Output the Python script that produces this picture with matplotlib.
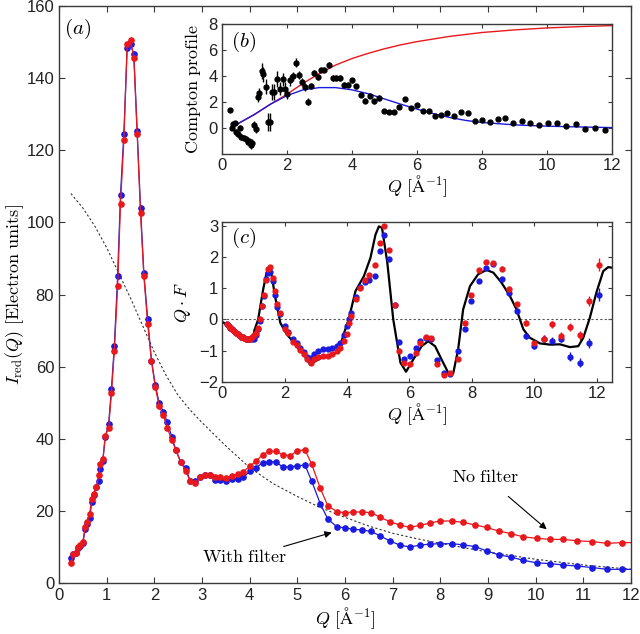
import numpy as np
import matplotlib.pyplot as plt

plt.rcParams['font.family'] = ['Liberation Sans', 'DejaVu Sans']
plt.rcParams['mathtext.fontset'] = 'cm'
plt.rcParams['axes.linewidth'] = 1.0
plt.rcParams['xtick.direction'] = 'in'
plt.rcParams['ytick.direction'] = 'in'

# ---- main panel (a): reduced intensity ----
q_main = [0.26, 0.30, 0.35, 0.40, 0.45, 0.50, 0.55, 0.59, 0.64, 0.69, 0.73, 0.78, 0.83, 0.87, 0.92, 0.97,
          1.04, 1.10, 1.16, 1.23, 1.29, 1.36, 1.43, 1.50, 1.57, 1.64, 1.71, 1.78, 1.86, 1.94, 2.02, 2.10,
          2.19, 2.27, 2.37, 2.45, 2.55, 2.66, 2.75, 2.85, 2.96, 3.06, 3.17, 3.27, 3.38, 3.50, 3.62, 3.75,
          3.87, 4.01, 4.13, 4.27, 4.41, 4.55, 4.69, 4.85, 5.00, 5.16, 5.30, 5.48, 5.64, 5.83, 6.00, 6.17,
          6.36, 6.55, 6.73, 6.94, 7.15, 7.36, 7.57, 7.78, 7.99, 8.24, 8.48, 8.73, 8.97, 9.23, 9.48, 9.74,
          10.02, 10.30, 10.58, 10.87, 11.19, 11.49, 11.80, 12.10]
i_nofilter = [5.6, 8.0, 8.3, 10.0, 10.5, 11.5, 15.5, 16.8, 19.2, 23.2, 24.8, 26.5, 29.9, 33.0, 34.3, 40.8,
              43.0, 52.6, 64.3, 82.3, 105.2, 122.8, 149.6, 150.6, 145.7, 124.4, 102.5, 85.2, 71.9, 61.5, 54.3, 49.2,
              46.5, 43.0, 39.6, 36.9, 33.6, 31.1, 28.3, 27.6, 29.3, 30.0, 30.0, 29.3, 29.3, 29.1, 29.7, 30.2,
              30.9, 32.5, 33.7, 35.6, 36.5, 36.5, 35.6, 35.3, 36.7, 36.9, 33.0, 26.3, 21.4, 19.8, 19.5, 19.7,
              19.7, 19.5, 18.3, 17.0, 16.1, 15.4, 16.0, 16.6, 17.2, 17.2, 16.8, 16.1, 15.4, 14.4, 13.7, 12.8,
              12.4, 12.1, 12.1, 11.7, 11.5, 11.0, 11.2, 11.2]
i_filter = [7.0, 8.0, 8.3, 9.7, 10.2, 11.0, 15.0, 16.5, 18.0, 22.5, 24.5, 26.5, 28.3, 31.6, 33.9, 40.5,
            44.0, 53.8, 65.6, 85.2, 107.7, 124.4, 148.4, 149.4, 146.6, 125.3, 104.1, 85.9, 73.2, 61.7, 55.0, 49.9,
            47.5, 44.6, 40.4, 36.9, 33.6, 31.9, 28.3, 28.3, 29.3, 30.0, 30.0, 28.6, 28.6, 28.4, 28.8, 28.8,
            29.3, 31.1, 31.9, 33.4, 33.6, 33.6, 32.2, 32.2, 32.5, 32.7, 28.3, 22.0, 17.7, 15.6, 15.3, 14.9,
            14.7, 14.3, 13.1, 11.7, 10.5, 10.0, 10.5, 10.8, 10.9, 10.9, 10.6, 10.1, 8.9, 7.8, 7.2, 6.3,
            5.6, 5.4, 5.0, 4.7, 4.3, 3.8, 3.8, 3.8]

# atomic form factor reference (dashed)
q_ff = [0.25, 0.5, 0.75, 1.0, 1.25, 1.5, 1.75, 2.0, 2.25, 2.5, 2.75, 3.0, 3.5, 4.0, 4.5, 5.0, 5.5, 6.0,
        6.5, 7.0, 7.5, 8.0, 8.5, 9.0, 9.5, 10.0, 10.5, 11.0, 11.5, 12.0]
i_ff = [108.0, 104.0, 99.0, 93.0, 86.0, 79.0, 71.5, 64.0, 57.5, 52.0, 48.0, 44.5, 38.0, 32.0, 27.5, 24.0,
        20.8, 18.2, 15.8, 13.8, 12.3, 11.0, 9.8, 8.6, 7.6, 6.6, 5.8, 5.0, 4.4, 3.8]

# ---- inset (b): Compton profile ----
q_cmp = [0.26, 0.31, 0.36, 0.41, 0.44, 0.51, 0.56, 0.58, 0.67, 0.74, 0.80, 0.85, 0.89, 0.94, 0.99, 1.05,
         1.10, 1.16, 1.23, 1.28, 1.35, 1.41, 1.48, 1.56, 1.62, 1.71, 1.79, 1.87, 1.95, 2.02, 2.10, 2.18,
         2.27, 2.37, 2.46, 2.56, 2.64, 2.74, 2.85, 2.95, 3.05, 3.15, 3.29, 3.41, 3.51, 3.64, 3.76, 3.87,
         4.00, 4.13, 4.27, 4.40, 4.56, 4.69, 4.84, 5.00, 5.15, 5.30, 5.46, 5.63, 5.81, 5.99, 6.18, 6.36,
         6.55, 6.74, 6.93, 7.14, 7.34, 7.56, 7.78, 8.01, 8.24, 8.48, 8.71, 8.96, 9.22, 9.47, 9.74, 10.02,
         10.29, 10.58, 10.88, 11.17, 11.48, 11.79]
v_cmp = [1.40, 0.05, 0.36, 0.44, -0.26, -0.47, 0.05, -0.67, -0.72, -0.85, -1.06, -0.98, -1.29, -1.16, 0.23, -0.08,
         2.38, 2.69, 4.39, 4.13, 3.20, 0.49, 0.49, 2.76, 2.76, 3.80, 3.02, 3.75, 3.02, 2.64, 3.67, 4.00,
         5.04, 4.10, 3.54, 3.15, 2.04, 3.23, 4.24, 3.93, 4.50, 4.50, 4.88, 3.85, 3.85, 3.85, 3.33, 3.33,
         3.67, 3.23, 2.58, 2.12, 2.51, 2.07, 2.33, 1.34, 1.27, 1.21, 1.65, 2.25, 1.55, 1.78, 1.29, 1.29,
         0.96, 1.01, 1.14, 0.96, 1.21, 1.14, 0.57, 0.65, 0.49, 0.70, 0.78, 0.44, 0.57, 0.44, 0.23, 0.44,
         0.44, 0.18, 0.36, -0.03, 0.00, -0.13]
e_cmp = [0.15, 0.15, 0.15, 0.15, 0.2, 0.2, 0.2, 0.2, 0.2, 0.2, 0.25, 0.25, 0.3, 0.3, 0.3, 0.3,
         0.4, 0.4, 0.6, 0.6, 0.6, 0.7, 0.7, 0.6, 0.6, 0.6, 0.5, 0.5, 0.5, 0.4, 0.4, 0.35,
         0.35, 0.3, 0.3, 0.3, 0.25, 0.25, 0.25, 0.2, 0.2, 0.2, 0.2, 0.2, 0.2, 0.2, 0.2, 0.2,
         0.2, 0.2, 0.2, 0.2, 0.2, 0.2, 0.2, 0.15, 0.15, 0.15, 0.15, 0.15, 0.12, 0.12, 0.12, 0.12,
         0.1, 0.1, 0.1, 0.1, 0.1, 0.1, 0.08, 0.08, 0.08, 0.08, 0.08, 0.08, 0.08, 0.08, 0.08, 0.08,
         0.08, 0.08, 0.08, 0.08, 0.08, 0.08]
q_free = [0.36, 0.5, 1.0, 1.5, 2.0, 2.5, 3.0, 3.5, 4.0, 4.5, 5.0, 5.5, 6.0, 7.0, 8.0, 9.0, 10.0, 11.0, 12.0]
v_free = [0.2, 0.35, 1.05, 1.85, 2.6, 3.45, 4.2, 4.85, 5.35, 5.75, 6.1, 6.4, 6.65, 7.05, 7.35, 7.55, 7.7, 7.8, 7.88]
q_bound = [0.36, 0.5, 1.0, 1.5, 2.0, 2.5, 3.0, 3.5, 4.0, 4.5, 5.0, 5.5, 6.0, 6.5, 7.0, 7.5, 8.0, 9.0, 10.0, 11.0, 12.0]
v_bound = [0.2, 0.35, 1.05, 1.85, 2.5, 2.95, 3.12, 3.12, 2.95, 2.65, 2.25, 1.85, 1.47, 1.12, 0.83, 0.6, 0.44,
           0.26, 0.16, 0.1, 0.05]

# ---- inset (c): Q*F ----
q_th = [0.0, 0.35, 0.67, 0.89, 0.99, 1.03, 1.15, 1.31, 1.42, 1.50, 1.58, 1.69, 1.86, 2.07, 2.39, 2.66,
        2.82, 2.98, 3.25, 3.57, 3.73, 3.89, 4.05, 4.27, 4.54, 4.75, 4.91, 5.02, 5.12, 5.29, 5.48, 5.71,
        5.89, 6.12, 6.39, 6.60, 6.82, 7.03, 7.24, 7.40, 7.56, 7.72, 7.94, 8.20, 8.47, 8.69, 8.95, 9.22,
        9.43, 9.65, 9.86, 10.18, 10.50, 10.82, 11.14, 11.41, 11.57, 11.78, 11.99, 12.21, 12.37, 12.50]
v_th = [-0.08, -0.30, -0.57, -0.66, -0.60, -0.35, 0.0, 0.96, 1.50, 1.62, 1.44, 0.75, -0.11, -0.48, -0.86, -1.18,
        -1.46, -1.34, -1.20, -1.12, -1.02, -0.48, 0.0, 0.91, 1.39, 1.98, 2.72, 2.99, 2.94, 1.82, 0.0, -1.39,
        -1.68, -1.29, -0.86, -0.70, -0.86, -1.29, -1.71, -1.74, -0.96, 0.32, 1.07, 1.45, 1.59, 1.50, 1.18, 0.75,
        0.32, -0.32, -0.59, -0.77, -0.81, -0.80, -0.89, -0.86, -0.59, 0.05, 0.86, 1.55, 1.68, 1.66]

q_exp = [0.15, 0.20, 0.25, 0.30, 0.35, 0.40, 0.45, 0.50, 0.55, 0.60, 0.65, 0.70, 0.75, 0.80, 0.85, 0.90,
         0.95, 1.03, 1.08, 1.15, 1.21, 1.26, 1.35, 1.40, 1.46, 1.54, 1.61, 1.69, 1.76, 1.85, 2.00, 2.11,
         2.27, 2.38, 2.50, 2.61, 2.72, 2.83, 2.94, 3.08, 3.22, 3.38, 3.51, 3.67, 3.78, 3.91, 4.00, 4.07,
         4.14, 4.27, 4.41, 4.59, 4.71, 4.88, 5.04, 5.17, 5.33, 5.52, 5.68, 5.84, 6.03, 6.20, 6.35, 6.52,
         6.70, 6.88, 7.10, 7.30, 7.54, 7.78, 7.97, 8.22, 8.45, 8.69, 8.95, 9.20, 9.45, 9.74, 10.00, 10.30,
         10.58, 10.87, 11.15, 11.47, 11.76, 12.08]
v_red = [-0.16, -0.21, -0.26, -0.30, -0.34, -0.39, -0.43, -0.47, -0.51, -0.55, -0.58, -0.60, -0.62, -0.64, -0.64, -0.62,
         -0.58, -0.50, -0.43, -0.27, 0.0, 0.43, 0.80, 1.25, 1.61, 1.69, 1.34, 0.91, 0.50, 0.21, -0.30, -0.45,
         -0.71, -0.83, -0.98, -1.12, -1.28, -1.39, -1.28, -1.20, -1.18, -1.18, -1.12, -1.01, -0.91, -0.70, -0.48, -0.11,
         0.10, 0.64, 1.01, 1.28, 1.44, 1.75, 2.46, 2.99, 2.23, 0.45, -1.01, -1.41, -1.44, -1.07, -0.77, -0.57,
         -0.60, -1.42, -1.77, -1.72, -1.27, -0.10, 0.80, 1.60, 1.84, 1.80, 1.63, 0.99, 0.48, -0.11, -0.77, -0.62,
         -0.16, -0.54, -0.24, -0.51, 0.59, 1.76]
v_blue = [-0.16, -0.21, -0.26, -0.30, -0.34, -0.39, -0.43, -0.47, -0.51, -0.55, -0.58, -0.60, -0.62, -0.64, -0.64, -0.64,
          -0.63, -0.62, -0.50, -0.30, -0.05, 0.43, 0.75, 1.29, 1.50, 1.52, 1.23, 0.80, 0.41, 0.16, -0.21, -0.40,
          -0.64, -0.77, -0.91, -1.05, -1.20, -1.23, -1.12, -1.01, -0.96, -0.96, -0.91, -0.85, -0.77, -0.51, -0.21, 0.0,
          0.21, 0.73, 1.04, 1.20, 1.25, 1.40, 2.20, 2.72, 1.94, 0.45, -0.73, -1.28, -1.17, -0.91, -0.70, -0.60,
          -0.62, -1.29, -1.71, -1.74, -1.02, -0.30, 0.59, 1.23, 1.66, 1.78, 1.29, 0.86, 0.27, -0.54, -0.86, -0.62,
          -0.70, -0.62, -1.20, -1.39, -0.75, 0.80]
e_exp = [0.02] * 40 + [0.03] * 20 + [0.05] * 12 + [0.06, 0.07, 0.08, 0.08, 0.09, 0.1, 0.1, 0.12, 0.12, 0.12,
                                                    0.14, 0.14, 0.16, 0.2]

red = '#e8181c'
blue = '#1a1ae0'
frame = '#3a3a3a'

fig = plt.figure(figsize=(6.4, 6.34), dpi=100)

# main axes
ax = fig.add_axes([0.0922, 0.0804, 0.8938, 0.9101])
ax.plot(q_ff, i_ff, ls=(0, (2, 2)), color='#333333', lw=0.8)
ax.plot(q_main, i_filter, '-o', color=blue, lw=0.9, ms=3.8, mec=blue)
ax.plot(q_main, i_nofilter, '-o', color=red, lw=0.9, ms=3.8, mec=red)
ax.set_xlim(0, 12)
ax.set_ylim(0, 160)
ax.set_xticks(range(0, 13))
ax.set_yticks(range(0, 161, 20))
ax.tick_params(top=True, right=True, length=4, color=frame, labelsize=12, labelcolor='#222222')
for s in ax.spines.values():
    s.set_color(frame)
ax.set_xlabel(r'$Q\ [\mathrm{\AA}^{-1}]$', fontsize=13, labelpad=2)
ax.set_ylabel(r'$I_{\mathrm{red}}(Q)\ \mathrm{[Electron\ units]}$', fontsize=13)
ax.yaxis.set_label_coords(-0.058, 0.5)
ax.text(0.033, 0.96, r'$(a)$', transform=ax.transAxes, fontsize=15, ha='center', va='center')
ax.annotate(r'$\mathrm{With\ filter}$', xy=(5.72, 14.0), xytext=(3.9, 7.0), fontsize=13,
            ha='center', va='center',
            arrowprops=dict(arrowstyle='-|>', color='black', lw=0.8, shrinkA=38, shrinkB=0,
                            mutation_scale=10))
ax.annotate(r'$\mathrm{No\ filter}$', xy=(10.23, 14.9), xytext=(8.95, 29.4), fontsize=13,
            ha='center', va='center',
            arrowprops=dict(arrowstyle='-|>', color='black', lw=0.8, shrinkA=9, shrinkB=0,
                            mutation_scale=10))

# inset b
axb = fig.add_axes([0.3464, 0.7566, 0.6103, 0.2055])
axb.plot(q_free, v_free, color=red, lw=1.0)
axb.plot(q_bound, v_bound, color=blue, lw=1.0)
axb.errorbar(q_cmp, v_cmp, yerr=e_cmp, fmt='o', color='black', ms=3.5, elinewidth=1.0, capsize=0)
axb.set_xlim(0, 12)
axb.set_ylim(-2, 8)
axb.set_xticks(range(0, 13, 2))
axb.set_yticks([0, 2, 4, 6, 8])
axb.tick_params(top=True, right=True, length=3, color=frame, labelsize=12, labelcolor='#222222', pad=3)
for s in axb.spines.values():
    s.set_color(frame)
axb.set_xlabel(r'$Q\ [\mathrm{\AA}^{-1}]$', fontsize=13, labelpad=0)
axb.set_ylabel(r'$\mathrm{Compton\ profile}$', fontsize=13, labelpad=4)
axb.text(0.055, 0.86, r'$(b)$', transform=axb.transAxes, fontsize=15, ha='center', va='center')

# inset c
axc = fig.add_axes([0.3473, 0.398, 0.6094, 0.2514])
axc.axhline(0, color='#555555', ls=(0, (2, 2)), lw=0.8)
axc.errorbar(q_exp, v_blue, yerr=e_exp, fmt='o', color=blue, ms=3.5, elinewidth=1.0, capsize=0)
axc.errorbar(q_exp, v_red, yerr=e_exp, fmt='o', color=red, ms=3.5, elinewidth=1.0, capsize=0)
axc.plot(q_th, v_th, color='black', lw=1.6)
axc.set_xlim(0, 12.5)
axc.set_ylim(-2, 3.12)
axc.set_xticks(range(0, 13, 2))
axc.set_yticks(range(-2, 4))
axc.tick_params(top=True, right=True, length=3, color=frame, labelsize=12, labelcolor='#222222', pad=3)
for s in axc.spines.values():
    s.set_color(frame)
axc.set_xlabel(r'$Q\ [\mathrm{\AA}^{-1}]$', fontsize=13, labelpad=0)
axc.set_ylabel(r'$Q\cdot F$', fontsize=13, labelpad=4)
axc.text(0.055, 0.9, r'$(c)$', transform=axc.transAxes, fontsize=15, ha='center', va='center')

fig.savefig('out.png', dpi=100)
